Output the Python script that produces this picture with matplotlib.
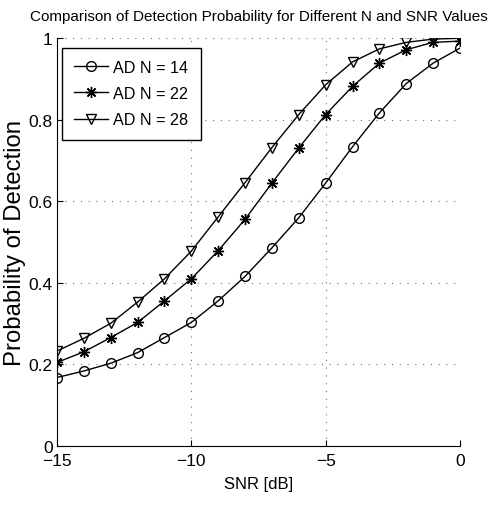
import matplotlib
matplotlib.use('Agg')
import matplotlib.pyplot as plt

# SNR sweep and detection probabilities for the three AD detector lengths
snr_db = [-15, -14, -13, -12, -11, -10, -9, -8, -7, -6, -5, -4, -3, -2, -1, 0]
pd_n14 = [0.168, 0.184, 0.203, 0.229, 0.266, 0.303, 0.356, 0.416, 0.486, 0.560,
          0.645, 0.734, 0.817, 0.889, 0.939, 0.976]
pd_n22 = [0.205, 0.231, 0.266, 0.303, 0.356, 0.410, 0.479, 0.556, 0.645, 0.731,
          0.813, 0.882, 0.939, 0.972, 0.990, 0.993]
pd_n28 = [0.233, 0.264, 0.301, 0.353, 0.410, 0.478, 0.562, 0.646, 0.732, 0.813,
          0.886, 0.942, 0.974, 0.990, 0.998, 1.000]
labels = ['AD N = 14', 'AD N = 22', 'AD N = 28']
x_ticks = [-15, -10, -5, 0]
x_ticklabels = ['\u221215', '\u221210', '\u22125', '0']
y_ticks = [0, 0.2, 0.4, 0.6, 0.8, 1]
y_ticklabels = ['0', '0.2', '0.4', '0.6', '0.8', '1']

plt.rcParams['font.family'] = ['Liberation Sans', 'DejaVu Sans']

fig = plt.figure(figsize=(4.9, 5.1), dpi=100)
ax = fig.add_axes([0.1163, 0.1235, 0.8225, 0.7995])
renderer = fig.canvas.get_renderer()


def size_for_width(text, width_px, size=12.0):
    # font size that makes the given string span width_px pixels
    t = fig.text(0, 0, text, fontsize=size)
    w = t.get_window_extent(renderer).width
    t.remove()
    return size * width_px / w


tick_fs = size_for_width('0.8', 24)
title_fs = size_for_width('Comparison of Detection Probability for Different N and SNR Values', 458)
xlab_fs = size_for_width('SNR [dB]', 69)
leg_fs = size_for_width('AD N = 14', 75)
ylab_fs = size_for_width('Probability of Detection', 247)

ax.plot(snr_db, pd_n14, '-', marker='o', color='black', lw=1.0, ms=7, mfc='none', mew=1.0, label=labels[0])
ax.plot(snr_db, pd_n22, '-', marker=(8, 2, 0), color='black', lw=1.0, ms=8, mew=1.0, label=labels[1])
ax.plot(snr_db, pd_n28, '-', marker='v', color='black', lw=1.0, ms=7.5, mfc='none', mew=1.0, label=labels[2])

ax.set_xlim(-15, 0)
ax.set_ylim(0, 1)
ax.set_xticks(x_ticks)
ax.set_xticklabels(x_ticklabels)
ax.set_yticks(y_ticks)
ax.set_yticklabels(y_ticklabels)
ax.tick_params(direction='in', length=4, width=0.8, labelsize=tick_fs)
ax.tick_params(axis='x', pad=5)
ax.tick_params(axis='y', pad=3)

ax.grid(True, linestyle=(0, (1, 6)), color='black', lw=0.8, alpha=0.55)
ax.spines['top'].set_visible(False)
ax.spines['right'].set_visible(False)
for s in ['left', 'bottom']:
    ax.spines[s].set_linewidth(0.8)

ax.set_xlabel('SNR [dB]', fontsize=xlab_fs, labelpad=6)
ax.set_ylabel('Probability of Detection', fontsize=ylab_fs, labelpad=2)
ax.set_title('Comparison of Detection Probability for Different N and SNR Values',
             fontsize=title_fs, pad=13)

fs_px = leg_fs * 100 / 72
leg = ax.legend(loc='upper left', bbox_to_anchor=(0.013, 0.977), fancybox=False,
                edgecolor='black', framealpha=1, borderaxespad=0, fontsize=leg_fs,
                handlelength=34 / fs_px, handletextpad=5 / fs_px,
                labelspacing=(27.5 - fs_px) / fs_px, borderpad=0.75)
leg.get_frame().set_linewidth(1.0)

fig.savefig('out.png', dpi=100)
